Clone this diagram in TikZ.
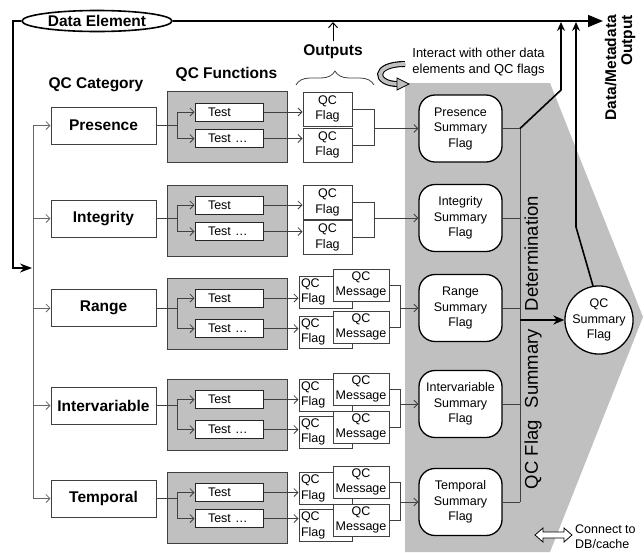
\documentclass[tikz,border=0pt]{standalone}
\usepackage{fontspec}
\setmainfont{Liberation Sans}
\usetikzlibrary{arrows.meta,decorations.pathreplacing,shapes.geometric,calc}
\definecolor{qgray}{HTML}{C0C0C0}
\definecolor{dline}{HTML}{404040}
\newcommand\bigb{\fontsize{15.5}{18}\selectfont\bfseries}
\newcommand\smt{\fontsize{12.5}{15.5}\selectfont}
\begin{document}
\begin{tikzpicture}[x=1pt,y=-1pt,
  ln/.style={draw=dline, line width=0.8pt},
  arr/.style={ln, -{Straight Barb[length=4pt,width=8pt]}},
  bk/.style={draw=black, line width=1.6pt},
  uparr/.style={bk, -{Stealth[length=9pt,width=8pt,inset=3pt]}, shorten >=1pt},
  catbox/.style={draw=dline, line width=1pt, fill=white, minimum width=105pt, minimum height=37pt, inner sep=0pt, font=\bigb},
  funcbox/.style={draw=dline, line width=1pt, fill=qgray, minimum width=120pt, minimum height=71pt, inner sep=0pt},
  testbox/.style={draw=black!85, line width=1pt, fill=white, text width=42pt, align=left, inner xsep=13pt, inner ysep=0pt, minimum height=18pt, font=\smt},
  flagbox/.style={draw=dline, line width=1pt, fill=white, minimum width=49pt, minimum height=34pt, inner sep=0pt, align=center, font=\smt},
  flagboxb/.style={draw=dline, line width=1pt, fill=white, text width=49pt, align=left, inner xsep=2pt, inner ysep=0pt, minimum height=32pt, font=\smt},
  msgbox/.style={draw=dline, line width=1pt, fill=white, minimum width=56pt, minimum height=32pt, inner sep=0pt, align=center, font=\smt},
  sumbox/.style={draw=black, line width=1.3pt, fill=white, rounded corners=16pt, minimum width=83pt, minimum height=67pt, inner sep=0pt, align=center, font=\smt},
  head/.style={font=\bigb}
]
\useasboundingbox (0,0) rectangle (644,552);
% background
\fill[qgray] (405,83) -- (550,83) -- (643,317) -- (550,552) -- (405,552) -- cycle;

% headings
\node[head] (qcc) at (96,85) {QC Category};
\node[head] (qcf) at (226.5,74) {QC Functions};
\node[head] (outl) at (333,52) {Outputs};
\draw[ln, decorate, decoration={brace, amplitude=14pt}] (296,85) -- (374,85);
\node[font=\fontsize{13}{16}\selectfont, align=center] (ia) at (478.5,62) {Interact with other data\\elements and QC flags};

% curved interaction arrow
\draw[line width=6pt, black] (405,64) .. controls (372,64) and (374,84) .. (398,84);
\draw[line width=3.8pt, qgray] (405.5,64) .. controls (372,64) and (374,84) .. (398,84);
\filldraw[fill=qgray, draw=black, line width=0.8pt] (397,78) -- (409,84) -- (397,90) -- cycle;

% data element
\node[draw=black, line width=1.6pt, ellipse, fill=white, minimum width=150pt, minimum height=21pt, inner sep=0pt, font=\bigb] (de) at (97,21) {Data Element};
\coordinate (outx) at (603,0);
\draw[bk, -{Triangle[length=15pt,width=12pt]}] (de.east) -- (de.east -| outx);
\node[rotate=90, anchor=east, align=right, inner sep=0pt, font=\fontsize{15.5}{16}\selectfont\bfseries] (dmo) at (620,15) {Data/Metadata\\Output};
\draw[draw=black, line width=1pt, -{Straight Barb[length=5pt,width=9pt]}, shorten >=1pt] (outl.north) -- (outl.north |- de.east);

% left feed
\coordinate (feed) at (32,268);
\draw[bk, -{Stealth[length=12pt,width=9pt]}] (de.west) -| (13,268) -- (feed);

% rows: category, function box, tests
\node[catbox] (c1) at (103.5,125.5) {Presence};
\node[catbox] (c2) at (103.5,218.5) {Integrity};
\node[catbox] (c3) at (103.5,308) {Range};
\node[catbox] (c4) at (103.5,405.5) {Intervariable};
\node[catbox] (c5) at (103.5,498.5) {Temporal};

\node[funcbox] (g1) at (227,127) {};
\node[funcbox] (g2) at (227,220.5) {};
\node[funcbox] (g3) at (227,313.5) {};
\node[funcbox] (g4) at (227,414.5) {};
\node[funcbox] (g5) at (227,507.5) {};

\node[testbox] (ta1) at (229,112) {Test};
\node[testbox] (tb1) at (229,138.5) {Test …};
\node[testbox] (ta2) at (229,205) {Test};
\node[testbox] (tb2) at (229,231.5) {Test …};
\node[testbox] (ta3) at (229,298) {Test};
\node[testbox] (tb3) at (229,328.5) {Test …};
\node[testbox] (ta4) at (229,399.5) {Test};
\node[testbox] (tb4) at (229,429.5) {Test …};
\node[testbox] (ta5) at (229,492.5) {Test};
\node[testbox] (tb5) at (229,518.5) {Test …};

% outputs
\node[flagbox, alias=oa1] (fa1) at (327.5,109) {QC\\Flag};
\node[flagbox, alias=ob1] (fb1) at (327.5,145) {QC\\Flag};
\node[flagbox, alias=oa2] (fa2) at (327.5,202.5) {QC\\Flag};
\node[flagbox, alias=ob2] (fb2) at (327.5,237.5) {QC\\Flag};

\node[flagboxb] (fa3) at (325.5,292) {QC\\Flag};
\node[msgbox] (oa3) at (361,285) {QC\\Message};
\node[flagboxb] (fb3) at (325.5,332) {QC\\Flag};
\node[msgbox] (ob3) at (361,327) {QC\\Message};

\node[flagboxb] (fa4) at (325.5,395) {QC\\Flag};
\node[msgbox] (oa4) at (361,389) {QC\\Message};
\node[flagboxb] (fb4) at (325.5,432) {QC\\Flag};
\node[msgbox] (ob4) at (361,427) {QC\\Message};

\node[flagboxb] (fa5) at (325.5,488.5) {QC\\Flag};
\node[msgbox] (oa5) at (361,482) {QC\\Message};
\node[flagboxb] (fb5) at (325.5,525.5) {QC\\Flag};
\node[msgbox] (ob5) at (361,520) {QC\\Message};

% summary flags
\node[sumbox] (s1) at (460.5,128.5) {Presence\\Summary\\Flag};
\node[sumbox] (s2) at (460.5,218) {Integrity\\Summary\\Flag};
\node[sumbox] (s3) at (460.5,308) {Range\\Summary\\Flag};
\node[sumbox] (s4) at (460.5,404) {Intervariable\\Summary\\Flag};
\node[sumbox] (s5) at (460.5,502) {Temporal\\Summary\\Flag};

\node[draw=black, line width=1.3pt, fill=white, circle, minimum size=65pt, inner sep=0pt, align=center, font=\smt] (q) at (599,320) {QC\\Summary\\Flag};

% connectors
\coordinate (xg) at (33,0);
\coordinate (xb) at (177,0);
\coordinate (xv) at (520,0);
\draw[draw=black!60, line width=1pt] (c1.west -| xg) -- (c5.west -| xg);
\foreach \i/\bx in {1/374,2/374,3/400,4/400,5/400}{
  \coordinate (k\i) at (\bx,0);
  \draw[arr, draw=black!60] (c\i.west -| xg) -- (c\i.west);
  \draw[arr] (c\i.east) -| (ta\i.west -| xb) -- (ta\i.west);
  \draw[arr] (c\i.east -| xb) |- (tb\i.west);
  \draw[arr] (ta\i.east) -- (ta\i.east -| fa\i.west);
  \draw[arr] (tb\i.east) -- (tb\i.east -| fb\i.west);
  \draw[ln] (oa\i.east) -- (oa\i.east -| k\i) -- (ob\i.east -| k\i) -- (ob\i.east);
  \draw[arr] (s\i.west -| k\i) -- (s\i.west);
  \draw[ln] (s\i.east) -- (s\i.east -| xv);
}
\draw[ln] (s1.east -| xv) -- (s5.east -| xv);
\coordinate (jq) at (520,320);
\draw[draw=black, line width=2pt, -{Stealth[length=11pt,width=9pt]}] (jq) -- (q.west);

% to output line
\coordinate (pp) at (561,90);
\draw[uparr] (s1.east -| xv) -- (pp) -- (pp |- de.east);
\coordinate (qq) at (576,227);
\draw[uparr] (q.100) -- (qq) -- (qq |- de.east);

\node[rotate=90, font=\fontsize{18.5}{20}\selectfont] (det) at (533,342.5) {QC Flag\hspace{12pt}Summary\hspace{18pt}Determination};

% legend
\filldraw[fill=white, draw=black, line width=0.8pt] (535,535) -- (543,528) -- (543,532) -- (564,532) -- (564,528) -- (572,535) -- (564,542) -- (564,538) -- (543,538) -- (543,542) -- cycle;
\node[anchor=west, align=left, inner sep=0pt, font=\smt] (leg) at (575,536.5) {Connect to\\DB/cache};
\end{tikzpicture}
\end{document}
